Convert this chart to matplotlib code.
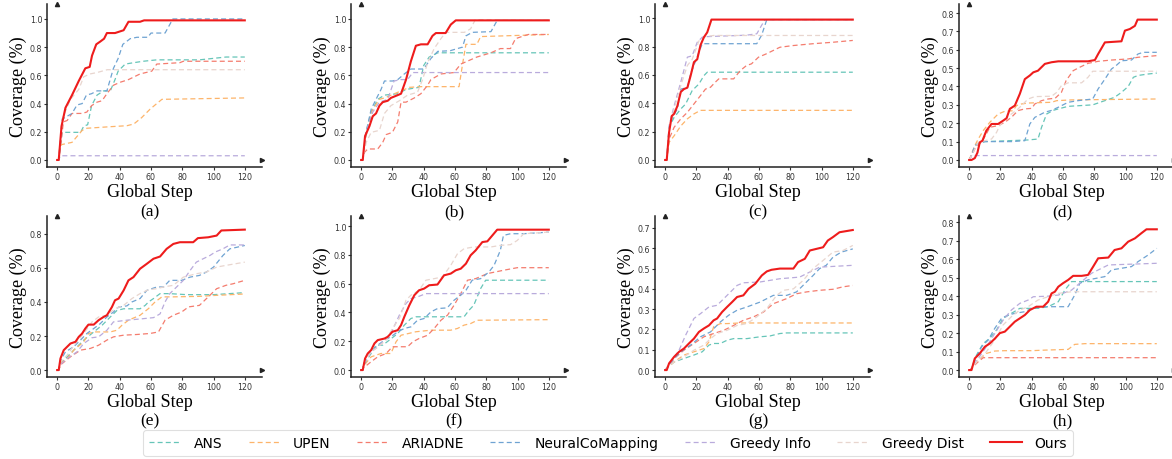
import numpy as np
import matplotlib.pyplot as plt
from matplotlib.ticker import MultipleLocator

# ---------- series names / colours ----------
names = ['ANS', 'UPEN', 'ARIADNE', 'NeuralCoMapping', 'Greedy Info', 'Greedy Dist', 'Ours']
colors = ['#66c5b8', '#fdb46a', '#f47c6e', '#6fa3d2', '#b9abdc', '#e8d5ce', '#ee1c1c']
panel_tags = ['(a)', '(b)', '(c)', '(d)', '(e)', '(f)', '(g)', '(h)']
ytop = [1.106, 1.106, 1.10, 0.849, 0.905, 1.07, 0.759, 0.834]
ystep = [0.2, 0.2, 0.2, 0.1, 0.2, 0.2, 0.1, 0.1]

# ---------- (a) ----------
a_ans = [(0,0),(1,0),(3.2,0.196),(15,0.196),(17,0.24),(19.5,0.25),(22,0.385),(25.5,0.46),(29.7,0.49),(34,0.49),(37,0.57),(39,0.63),(43.5,0.68),(49,0.69),(55,0.70),(63.7,0.71),(91,0.71),(108,0.73),(120,0.73)]
a_upen = [(0,0),(1,0),(1.7,0.10),(3.2,0.11),(9.5,0.125),(16,0.21),(19,0.225),(34,0.236),(44.6,0.243),(49,0.255),(54,0.30),(59.4,0.36),(63.7,0.40),(67,0.43),(120,0.44)]
a_ariadne = [(0,0),(1,0),(4,0.27),(6.4,0.28),(9.5,0.33),(16,0.33),(19,0.34),(22,0.385),(25.5,0.41),(28.7,0.42),(31.8,0.47),(36,0.53),(40,0.55),(45.6,0.57),(53,0.61),(60.5,0.63),(63.7,0.68),(78.5,0.69),(80.7,0.70),(120,0.70)]
a_ncm = [(0,0),(1,0),(3.2,0.29),(6.4,0.31),(9.5,0.33),(12.7,0.39),(16,0.40),(18.7,0.46),(22,0.47),(25.5,0.49),(31.8,0.49),(36,0.65),(39,0.72),(42,0.82),(46.7,0.86),(51,0.87),(58,0.87),(60,0.90),(69,0.90),(74,1.0),(120,1.0)]
a_info = [(0,0),(1,0),(2,0.03),(120,0.03)]
a_dist = [(0,0),(1,0),(3.2,0.29),(8.5,0.43),(13.8,0.50),(17,0.59),(21,0.61),(25.5,0.62),(32,0.64),(120,0.64)]
a_ours = [(0,0),(1,0),(2.8,0.24),(5.3,0.37),(9.5,0.46),(13.8,0.56),(18,0.65),(20.8,0.66),(22.3,0.74),(25,0.82),(27.6,0.84),(30,0.86),(31.8,0.90),(37,0.90),(42.5,0.92),(45.6,0.98),(53,0.98),(55.6,0.99),(120,0.99)]

# ---------- (b) ----------
b_ans = [(0,0),(1,0),(3.2,0.2),(6.4,0.34),(10.6,0.43),(14.9,0.46),(23.4,0.47),(28.7,0.50),(37,0.515),(40,0.67),(43.5,0.73),(49,0.76),(120,0.76)]
b_upen = [(0,0),(1,0),(3.2,0.17),(6.4,0.34),(11.7,0.43),(14.9,0.44),(23.4,0.48),(27.6,0.50),(30.8,0.515),(38.2,0.52),(62.6,0.52),(65,0.69),(67,0.82),(74,0.82),(76.4,0.875),(120,0.89)]
b_ariadne = [(0,0),(1,0),(2.1,0.054),(4.2,0.078),(10.6,0.078),(13.8,0.125),(16,0.18),(20,0.196),(23.4,0.27),(25.5,0.41),(28.7,0.41),(34,0.44),(38.2,0.47),(42.5,0.53),(44.6,0.57),(51,0.61),(59.4,0.62),(63.7,0.68),(74,0.73),(83,0.76),(89,0.79),(95.5,0.79),(98.7,0.86),(104,0.88),(107,0.89),(120,0.89)]
b_ncm = [(0,0),(1,0),(3.2,0.2),(6.4,0.36),(9.5,0.43),(12.7,0.50),(14.9,0.56),(20,0.56),(23.4,0.57),(27.6,0.61),(31.8,0.645),(40,0.645),(44.6,0.72),(49,0.77),(57,0.775),(61.6,0.79),(64.8,0.80),(67,0.88),(71,0.905),(83,0.91),(87,0.99),(120,0.99)]
b_info = [(0,0),(1,0),(3.2,0.2),(7.4,0.34),(11.7,0.41),(17,0.43),(21,0.56),(25.5,0.57),(29.7,0.57),(33,0.62),(120,0.62)]
b_dist = [(0,0),(1,0),(3.2,0.125),(6.4,0.196),(11.7,0.21),(14.9,0.33),(19,0.385),(24.4,0.42),(29.7,0.46),(36,0.48),(39.3,0.57),(42.5,0.69),(46.7,0.79),(51,0.86),(54,0.905),(66,0.905),(70,0.93),(73,0.995),(120,0.995)]
b_ours = [(0,0),(1,0),(2.5,0.17),(5.3,0.24),(7.4,0.31),(9.5,0.33),(11.7,0.385),(13.8,0.41),(17,0.42),(19,0.44),(23.4,0.46),(25.5,0.47),(28.7,0.57),(31.8,0.70),(35,0.81),(38.2,0.82),(42.5,0.82),(45.6,0.88),(47.8,0.90),(54,0.90),(57.3,0.96),(60.5,0.99),(120,0.99)]

# ---------- (c) ----------
c_ans = [(0,0),(1,0),(2.5,0.23),(5.7,0.30),(10,0.36),(13.1,0.395),(17.3,0.49),(21.6,0.536),(24.8,0.595),(26.9,0.619),(120,0.619)]
c_upen = [(0,0),(1,0),(2.5,0.125),(5.7,0.17),(10,0.24),(14.2,0.29),(18.4,0.325),(22.6,0.35),(120,0.35)]
c_ariadne = [(0,0),(1,0),(2.5,0.148),(5.7,0.23),(10,0.29),(14.2,0.336),(18.4,0.395),(22.6,0.454),(25.8,0.50),(29,0.513),(32,0.548),(34.3,0.572),(43.8,0.572),(48,0.63),(52,0.666),(55.2,0.678),(59.7,0.725),(65,0.75),(71.3,0.784),(73.4,0.795),(81.9,0.807),(94.6,0.82),(107,0.83),(120,0.843)]
c_ncm = [(0,0),(1,0),(2.5,0.22),(4.6,0.30),(7.8,0.36),(10,0.50),(14.2,0.51),(16.3,0.607),(19.5,0.70),(21.6,0.76),(23.7,0.82),(26.9,0.82),(58.6,0.82),(61.7,0.88),(65,0.99),(120,0.99)]
c_info = [(0,0),(1,0),(2.5,0.24),(5.7,0.38),(10,0.55),(14.2,0.725),(17.3,0.735),(20.5,0.83),(23.7,0.866),(26.9,0.87),(52,0.88),(58.6,0.89),(61.7,0.95),(63.9,0.99),(120,0.99)]
c_dist = [(0,0),(1,0),(2.5,0.22),(5.7,0.36),(10,0.525),(14.2,0.666),(17.3,0.71),(21.6,0.84),(25.8,0.87),(31,0.878),(120,0.878)]
c_ours = [(0,0),(1,0),(2.5,0.195),(4.2,0.31),(5.7,0.325),(7.8,0.38),(10,0.48),(12,0.50),(14.2,0.51),(16.3,0.595),(18.4,0.69),(20.5,0.71),(22.6,0.81),(24.8,0.866),(26.9,0.90),(29.6,0.99),(120,0.99)]

# ---------- (d) ----------
d_ans = [(0,0),(1.5,0.024),(3.6,0.078),(7.9,0.093),(10,0.10),(37.7,0.109),(44,0.114),(46.3,0.178),(49.5,0.25),(53.7,0.27),(57,0.278),(63.3,0.292),(79,0.30),(86.8,0.323),(93,0.341),(97.4,0.368),(101.7,0.40),(105,0.45),(108,0.46),(114.5,0.468),(120,0.473)]
d_upen = [(0,0),(1.5,0.033),(3.6,0.078),(5.8,0.114),(9,0.16),(13.2,0.205),(18.5,0.25),(22.8,0.265),(28,0.268),(30.3,0.296),(33.5,0.305),(37.7,0.31),(52.7,0.314),(56,0.323),(65.5,0.327),(120,0.332)]
d_ariadne = [(0,0),(1.5,0.024),(4.7,0.078),(7.9,0.096),(11,0.142),(13.2,0.178),(18.5,0.187),(22.8,0.205),(27,0.232),(31.3,0.269),(35.6,0.278),(40,0.281),(42,0.305),(46.3,0.323),(50.5,0.332),(55,0.336),(59,0.368),(62,0.432),(66.5,0.486),(70.8,0.505),(76,0.526),(82.5,0.537),(91,0.544),(101.7,0.55),(108,0.559),(120,0.568)]
d_ncm = [(0,0),(1.5,0.024),(3.6,0.078),(6.8,0.096),(10,0.10),(27,0.10),(35.6,0.105),(38.8,0.196),(42,0.232),(48.4,0.26),(52.7,0.27),(57,0.287),(63.3,0.314),(69.7,0.323),(79,0.332),(82.5,0.387),(86.8,0.44),(91,0.495),(94,0.514),(97.4,0.54),(103.8,0.544),(108,0.577),(111.3,0.586),(120,0.586)]
d_info = [(0,0),(1.5,0.024),(120,0.024)]
d_dist = [(0,0),(2.5,0.04),(5.8,0.096),(10,0.105),(14.3,0.114),(17.5,0.15),(19.6,0.187),(22.8,0.223),(27,0.25),(31.3,0.278),(37.7,0.332),(42,0.345),(52.7,0.347),(56,0.368),(59,0.405),(63.3,0.42),(71.9,0.42),(76,0.45),(79,0.483),(120,0.483)]
d_ours = [(0,0),(1.5,0),(3.6,0.01),(5.3,0.04),(6.8,0.096),(8.5,0.105),(11,0.16),(14.3,0.196),(18.5,0.196),(21.7,0.214),(23.9,0.227),(26,0.278),(29.2,0.296),(32.4,0.36),(35.6,0.44),(38.8,0.46),(41,0.477),(44,0.486),(48.4,0.523),(52.7,0.532),(57,0.537),(76,0.537),(80.4,0.544),(82.5,0.577),(86.8,0.64),(97.4,0.646),(99.6,0.704),(102.8,0.713),(106,0.73),(107.7,0.764),(120,0.764)]

# ---------- (e) ----------
e_ans = [(0,0),(1,0),(2.1,0.04),(6.4,0.078),(11.7,0.127),(17,0.176),(23.4,0.224),(28.7,0.263),(34,0.312),(38.2,0.35),(42.5,0.36),(53,0.36),(56.3,0.38),(58.4,0.40),(61.6,0.42),(65.8,0.449),(72,0.449),(82.8,0.443),(100,0.443),(120,0.455)]
e_upen = [(0,0),(1,0),(2.1,0.04),(6.4,0.068),(10.6,0.117),(17,0.166),(20,0.215),(24.4,0.224),(34,0.224),(38.2,0.234),(41.4,0.263),(45.6,0.293),(53,0.322),(58.4,0.361),(62.6,0.40),(67,0.43),(74.3,0.43),(91,0.433),(102,0.439),(120,0.447)]
e_ariadne = [(0,0),(1,0),(2.1,0.03),(8.5,0.078),(14.9,0.117),(21.2,0.127),(26.5,0.146),(31.8,0.176),(36,0.195),(42.5,0.205),(51,0.209),(59.4,0.215),(64.8,0.224),(69,0.293),(74.3,0.322),(79.6,0.341),(84,0.371),(91,0.38),(95.5,0.42),(102,0.478),(108,0.498),(112.5,0.507),(120,0.527)]
e_ncm = [(0,0),(1,0),(1.7,0.049),(5.3,0.107),(10.6,0.137),(14.9,0.176),(19,0.215),(23.4,0.244),(27.6,0.273),(31.8,0.312),(36,0.341),(39.3,0.37),(44.6,0.377),(47.8,0.40),(53,0.42),(57.3,0.468),(63.7,0.488),(68,0.488),(72,0.527),(79.6,0.527),(85,0.546),(91,0.556),(95.5,0.576),(100,0.605),(106,0.673),(110.4,0.712),(120,0.732)]
e_info = [(0,0),(1,0),(1.7,0.03),(6.4,0.068),(12.7,0.107),(17,0.156),(22.3,0.19),(26.5,0.195),(31.8,0.234),(36,0.283),(44.6,0.293),(53,0.30),(61.6,0.308),(65.8,0.33),(69,0.40),(72,0.449),(77.5,0.498),(80.7,0.527),(85,0.585),(89,0.634),(93.4,0.654),(97.7,0.673),(101,0.693),(106,0.712),(110.4,0.735),(120,0.735)]
e_dist = [(0,0),(1,0),(2.1,0.049),(6.4,0.088),(11.7,0.156),(17,0.215),(22.3,0.283),(26.5,0.312),(31.8,0.322),(37,0.361),(42.5,0.38),(47.8,0.42),(53,0.449),(58.4,0.472),(63.7,0.478),(68,0.488),(74.3,0.498),(80.7,0.546),(89,0.566),(95.5,0.576),(102,0.605),(108,0.615),(120,0.634)]
e_ours = [(0,0),(1,0),(2.1,0.068),(4.2,0.117),(6.4,0.137),(8.5,0.156),(11.7,0.166),(13.8,0.195),(16,0.215),(18,0.244),(20,0.267),(23.4,0.267),(26.5,0.293),(29.7,0.312),(31.8,0.322),(35,0.37),(37,0.41),(39.3,0.42),(42.5,0.468),(45.6,0.527),(48.8,0.546),(53,0.595),(57.3,0.624),(61.6,0.654),(65.8,0.667),(70,0.712),(74.3,0.741),(78.5,0.751),(87,0.751),(90,0.775),(96.6,0.78),(102,0.79),(105,0.82),(120,0.825)]

# ---------- (f) ----------
f_ans = [(0,0),(1,0),(1.1,0.035),(6.4,0.115),(9.5,0.173),(13.8,0.173),(18,0.208),(23.4,0.254),(27.6,0.312),(31.8,0.358),(35,0.37),(65.8,0.37),(69,0.416),(72,0.45),(76.4,0.566),(79.6,0.624),(120,0.624)]
f_upen = [(0,0),(1,0),(1.1,0.023),(6.4,0.092),(12.7,0.115),(19,0.115),(22.3,0.196),(25.5,0.242),(35,0.266),(44.6,0.277),(57.3,0.277),(61.6,0.289),(65.8,0.312),(70,0.323),(74.3,0.346),(120,0.35)]
f_ariadne = [(0,0),(1,0),(1.1,0.012),(6.4,0.058),(10.6,0.092),(16,0.115),(20,0.162),(29.7,0.162),(33,0.196),(37,0.219),(42.5,0.242),(46.7,0.289),(51,0.346),(55.2,0.381),(59.4,0.45),(63.7,0.531),(68,0.624),(73.2,0.635),(80.7,0.67),(91,0.693),(99.8,0.711),(120,0.711)]
f_ncm = [(0,0),(1,0),(1.1,0.023),(6.4,0.127),(10.6,0.173),(14.9,0.208),(19,0.231),(23.4,0.266),(27.6,0.289),(31.8,0.30),(36,0.346),(40.3,0.358),(44.6,0.404),(48.8,0.427),(55,0.432),(59.4,0.485),(63.7,0.52),(67,0.554),(71,0.624),(76.4,0.635),(81.7,0.681),(85,0.727),(89,0.831),(91,0.935),(95.5,0.947),(104,0.947),(120,0.958)]
f_info = [(0,0),(1,0),(1.1,0.035),(6.4,0.127),(10.6,0.16),(16,0.219),(20,0.277),(24.4,0.381),(28.7,0.462),(31.8,0.497),(36,0.508),(41.4,0.531),(120,0.531)]
f_dist = [(0,0),(1,0),(1.1,0.035),(6.4,0.127),(10.6,0.16),(16,0.208),(20,0.289),(24.4,0.358),(28.7,0.485),(31.8,0.52),(37,0.554),(41.4,0.624),(46.7,0.635),(52,0.647),(57.3,0.727),(61.6,0.808),(65.8,0.843),(72,0.855),(83,0.855),(89,0.866),(95.5,0.871),(99.8,0.90),(104,0.947),(120,0.958)]
f_ours = [(0,0),(1,0),(2.5,0.08),(4.2,0.115),(6.4,0.139),(8.5,0.185),(10.6,0.208),(14.9,0.219),(17,0.231),(20,0.266),(23.4,0.277),(25.5,0.312),(27.6,0.37),(30.8,0.45),(34,0.52),(37,0.554),(40.3,0.566),(43.5,0.589),(48.8,0.594),(53,0.658),(57.3,0.67),(60.5,0.693),(63.7,0.704),(67,0.739),(70,0.797),(73.2,0.831),(77.5,0.889),(80.7,0.894),(83.9,0.935),(87,0.975),(120,0.975)]

# ---------- (g) ----------
g_ans = [(0,0),(1,0.01),(5.7,0.04),(12,0.057),(18.4,0.074),(23.7,0.09),(28,0.123),(31,0.131),(35.3,0.131),(39.6,0.147),(43.8,0.155),(52.3,0.155),(60.7,0.164),(67,0.168),(73.4,0.18),(77.7,0.183),(120,0.183)]
g_upen = [(0,0),(1,0.01),(5.7,0.04),(12,0.074),(18.4,0.09),(24.8,0.106),(28,0.139),(31,0.213),(35.3,0.229),(39.6,0.229),(48,0.232),(120,0.232)]
g_ariadne = [(0,0),(1,0.01),(5.7,0.057),(12,0.098),(18.4,0.131),(24.8,0.164),(31,0.18),(37.5,0.196),(43.8,0.22),(50,0.245),(56.5,0.262),(62.9,0.286),(69.2,0.327),(77.7,0.352),(84,0.376),(90.4,0.385),(98.8,0.393),(107.3,0.398),(113.7,0.41),(120,0.417)]
g_ncm = [(0,0),(1,0.01),(5.7,0.057),(10,0.09),(16.3,0.123),(22.6,0.164),(29,0.188),(35.3,0.237),(40.6,0.27),(46,0.295),(52.3,0.311),(60.7,0.335),(69.2,0.368),(77.7,0.368),(84,0.385),(90.4,0.434),(94.6,0.466),(98.8,0.50),(103,0.516),(107.3,0.556),(112.6,0.581),(120,0.597)]
g_info = [(0,0),(1,0.01),(4.7,0.049),(8.9,0.098),(13.1,0.172),(18.4,0.254),(22.6,0.278),(28,0.311),(33.2,0.319),(39.6,0.368),(46,0.417),(50,0.43),(60.7,0.434),(73.4,0.45),(86,0.458),(92.5,0.483),(98.8,0.507),(120,0.516)]
g_dist = [(0,0),(1,0.01),(5.7,0.04),(12,0.065),(18.4,0.098),(24.8,0.123),(29,0.155),(33.2,0.18),(39.6,0.196),(46,0.22),(52.3,0.229),(58.6,0.262),(65,0.303),(71.3,0.368),(75.6,0.393),(82,0.40),(88.3,0.442),(94.6,0.50),(101,0.54),(107.3,0.581),(113.7,0.589),(120,0.614)]
g_ours = [(0,0),(1,0),(2.5,0.033),(5.7,0.065),(8.9,0.09),(12,0.106),(15.2,0.131),(18.4,0.155),(21.6,0.188),(24.8,0.205),(28,0.22),(31,0.245),(33.2,0.254),(36.4,0.286),(39.6,0.311),(42.8,0.335),(46,0.36),(50,0.368),(53.3,0.40),(57.6,0.425),(61.8,0.466),(65,0.486),(68,0.494),(73.4,0.50),(82,0.50),(85,0.532),(89.3,0.548),(92.5,0.589),(96.7,0.597),(101,0.605),(104,0.638),(107.3,0.655),(111.5,0.679),(120,0.69)]

# ---------- (h) ----------
h_ans = [(0,0),(1,0),(1.5,0.01),(4.7,0.081),(9,0.144),(13.2,0.172),(17.5,0.217),(21.7,0.28),(27,0.307),(32.4,0.334),(44,0.334),(50.5,0.343),(57,0.37),(61.2,0.433),(65.5,0.479),(69.7,0.479),(120,0.479)]
h_upen = [(0,0),(1,0),(1.5,0.01),(5.8,0.054),(11,0.09),(16.4,0.103),(22.8,0.105),(40,0.105),(48.4,0.108),(63.3,0.112),(67.5,0.139),(74,0.143),(120,0.143)]
h_ariadne = [(0,0),(1,0),(1.5,0.01),(5.8,0.045),(9,0.067),(120,0.067)]
h_ncm = [(0,0),(1,0),(1.5,0.01),(4.7,0.072),(7.9,0.126),(12.2,0.163),(16.4,0.226),(20.7,0.28),(25,0.298),(29.2,0.307),(35.6,0.316),(40,0.334),(46.3,0.343),(63.3,0.343),(67.5,0.406),(70.8,0.47),(76,0.488),(86.8,0.506),(91,0.542),(97.4,0.551),(103.8,0.56),(108,0.587),(114.5,0.623),(120,0.659)]
h_info = [(0,0),(1,0),(1.5,0.01),(5.8,0.063),(11,0.126),(16.4,0.198),(21.7,0.27),(27,0.325),(32.4,0.361),(37.7,0.379),(41,0.397),(50.5,0.40),(57,0.406),(65.5,0.433),(71.9,0.479),(78.3,0.524),(84.7,0.551),(89,0.569),(120,0.578)]
h_dist = [(0,0),(1,0),(1.5,0.01),(5.8,0.054),(11,0.099),(16.4,0.163),(21.7,0.244),(27,0.289),(32.4,0.325),(37.7,0.343),(44,0.379),(50.5,0.397),(57,0.415),(65.5,0.424),(120,0.424)]
h_ours = [(0,0),(1.5,0),(3.6,0.063),(6.8,0.09),(10,0.126),(13.2,0.144),(16.4,0.17),(19.6,0.2),(22.8,0.208),(26,0.235),(29.2,0.262),(32.4,0.28),(35.6,0.298),(38.8,0.325),(43,0.343),(47.3,0.343),(50.5,0.37),(52.7,0.415),(54.8,0.424),(57,0.451),(60,0.47),(63.3,0.488),(66.5,0.51),(71.9,0.51),(76,0.515),(79.3,0.56),(82.5,0.605),(89,0.609),(93,0.65),(97.4,0.659),(101.7,0.695),(106,0.713),(110,0.74),(113.4,0.762),(120,0.762)]

panels = [
    [a_ans, a_upen, a_ariadne, a_ncm, a_info, a_dist, a_ours],
    [b_ans, b_upen, b_ariadne, b_ncm, b_info, b_dist, b_ours],
    [c_ans, c_upen, c_ariadne, c_ncm, c_info, c_dist, c_ours],
    [d_ans, d_upen, d_ariadne, d_ncm, d_info, d_dist, d_ours],
    [e_ans, e_upen, e_ariadne, e_ncm, e_info, e_dist, e_ours],
    [f_ans, f_upen, f_ariadne, f_ncm, f_info, f_dist, f_ours],
    [g_ans, g_upen, g_ariadne, g_ncm, g_info, g_dist, g_ours],
    [h_ans, h_upen, h_ariadne, h_ncm, h_info, h_dist, h_ours],
]

serif = ['Liberation Serif', 'DejaVu Serif']

fig = plt.figure(figsize=(11.72, 4.6), dpi=100)

W, H = 1172.0, 460.0
lefts = [47, 351, 655, 959]
row_top = [5, 217]
row_bot = [168, 378]

handles = []
for i, series in enumerate(panels):
    r, c = divmod(i, 4)
    ax = fig.add_axes([lefts[c] / W, 1 - row_bot[r] / H,
                       215 / W, (row_bot[r] - row_top[r]) / H])
    ax.patch.set_alpha(0)
    for j, pts in enumerate(series):
        pts = np.array(pts)
        if names[j] == 'Ours':
            ln, = ax.plot(pts[:, 0], pts[:, 1], color=colors[j], lw=1.5, zorder=5)
        else:
            ln, = ax.plot(pts[:, 0], pts[:, 1], color=colors[j], lw=0.9,
                          dashes=(4, 2.5), zorder=3)
        if i == 0:
            handles.append(ln)

    top = ytop[i]
    ax.set_xlim(-6.5, 131)
    ax.set_ylim(-0.045 * top, top)
    ax.xaxis.set_major_locator(MultipleLocator(20))
    ax.yaxis.set_major_locator(MultipleLocator(ystep[i]))
    ax.yaxis.set_major_formatter(plt.FormatStrFormatter('%.1f'))
    ax.tick_params(labelsize=5.7, length=2, width=0.8, pad=1.5, colors='#333333')
    for s in ['top', 'right']:
        ax.spines[s].set_visible(False)
    for s in ['left', 'bottom']:
        ax.spines[s].set_linewidth(1.1)
        ax.spines[s].set_color('#222222')
    # arrow heads on the axes
    ax.plot(1, 0, '>', color='#222222', ms=3, transform=ax.get_yaxis_transform(), clip_on=False)
    ax.plot(0, 1, '^', color='#222222', ms=3, transform=ax.get_xaxis_transform(), clip_on=False)

    ax.set_ylabel('Coverage (%)', fontsize=13, family=serif)
    ax.yaxis.set_label_coords(-0.095, 0.5)
    ax.set_xlabel('Global Step', fontsize=13, family=serif)
    ax.xaxis.set_label_coords(0.48, -0.1)
    ax.text(0.48, -0.27, panel_tags[i], transform=ax.transAxes, ha='center',
            va='center', fontsize=12.5, family=serif, zorder=10)

leg = fig.legend(handles, names, loc='center', ncol=7, fontsize=10,
                 bbox_to_anchor=(608 / W, 1 - 444 / H), handlelength=2.3,
                 columnspacing=1.9, handletextpad=0.9, frameon=True, fancybox=True,
                 borderpad=0.45)
leg.get_frame().set_edgecolor('#d8d8d8')
leg.get_frame().set_linewidth(0.8)

fig.savefig('out.png', dpi=100)
